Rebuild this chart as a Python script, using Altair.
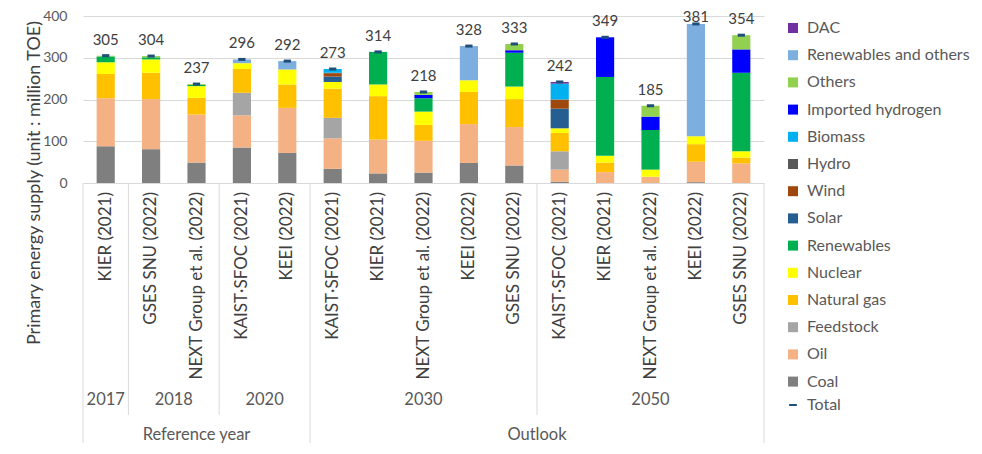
import altair as alt
import pandas as pd

# ---------------- data ----------------
studies = ["KIER (2021)", "GSES SNU (2022)", "NEXT Group et al. (2022)", "KAIST·SFOC (2021)", "KEEI (2022)",
           "KAIST·SFOC (2021)", "KIER (2021)", "NEXT Group et al. (2022)", "KEEI (2022)", "GSES SNU (2022)",
           "KAIST·SFOC (2021)", "KIER (2021)", "NEXT Group et al. (2022)", "KEEI (2022)", "GSES SNU (2022)"]
years = ["2017", "2018", "2018", "2020", "2020",
         "2030", "2030", "2030", "2030", "2030",
         "2050", "2050", "2050", "2050", "2050"]
groups = ["Reference year"] * 5 + ["Outlook"] * 10
totals = [305, 304, 237, 296, 292, 273, 314, 218, 328, 333, 242, 349, 185, 381, 354]

coal = [88, 81, 49, 85, 72, 34, 23, 25, 48, 42, 3, 0, 0, 2, 0]
oil = [115, 120, 115, 77, 108, 73, 81, 76, 93, 92, 29, 26, 15, 49, 47]
feedstock = [0, 0, 0, 54, 0, 49, 0, 0, 0, 0, 44, 0, 0, 0, 0]
natural_gas = [58, 63, 40, 57, 56, 70, 104, 38, 77, 67, 44, 23, 0, 42, 14]
nuclear = [28, 32, 28, 14, 36, 16, 28, 32, 28, 30, 11, 16, 17, 19, 15]
renewables = [14, 5, 3, 0, 0, 0, 78, 32, 0, 81, 0, 189, 95, 0, 188]
solar = [0, 0, 0, 0, 0, 13, 0, 0, 0, 0, 47, 0, 0, 0, 0]
wind = [0, 0, 0, 0, 0, 8, 0, 0, 0, 0, 22, 0, 0, 0, 0]
hydro = [0, 0, 0, 0, 0, 1, 0, 0, 0, 0, 0, 0, 0, 0, 0]
biomass = [0, 0, 0, 0, 0, 9, 0, 0, 0, 0, 38, 0, 0, 0, 0]
imported_hydrogen = [0, 0, 0, 0, 0, 0, 0, 8, 0, 6, 0, 95, 32, 0, 56]
others = [2, 3, 2, 0, 0, 0, 0, 7, 0, 15, 0, 0, 26, 0, 34]
renewables_and_others = [0, 0, 0, 9, 20, 0, 0, 0, 82, 0, 0, 0, 0, 269, 0]
dac = [0, 0, 0, 0, 0, 0, 0, 0, 0, 0, 4, 0, 0, 0, 0]

legend_names = ["DAC", "Renewables and others", "Others", "Imported hydrogen", "Biomass", "Hydro",
                "Wind", "Solar", "Renewables", "Nuclear", "Natural gas", "Feedstock", "Oil", "Coal"]
legend_colors = ["#7030A0", "#7DAEE0", "#92D050", "#0000FF", "#00B0F0", "#595959",
                 "#9E480E", "#255E91", "#00B050", "#FFFF00", "#FFC000", "#A5A5A5", "#F4B183", "#7F7F7F"]

series_values = {
    "Coal": coal, "Oil": oil, "Feedstock": feedstock, "Natural gas": natural_gas,
    "Nuclear": nuclear, "Renewables": renewables, "Solar": solar, "Wind": wind,
    "Hydro": hydro, "Biomass": biomass, "Imported hydrogen": imported_hydrogen,
    "Others": others, "Renewables and others": renewables_and_others, "DAC": dac,
}
stack_order = list(reversed(legend_names))

FONT = "Lato"
TXT = "#404040"
GRID = "#D9D9D9"

# ---------------- tables ----------------
rows = []
for i in range(len(studies)):
    cum = 0
    for name in stack_order:
        v = series_values[name][i]
        if v > 0:
            rows.append(dict(idx=i, x0=i + 0.3, x1=i + 0.7, series=name, y0=cum, y1=cum + v))
            cum += v
seg = pd.DataFrame(rows)

tot = pd.DataFrame({
    "xc": [i + 0.5 for i in range(len(studies))],
    "tx0": [i + 0.42 for i in range(len(studies))],
    "tx1": [i + 0.58 for i in range(len(studies))],
    "total": totals,
    "study": studies,
    "label": ["Total"] * len(studies),
})

# year / group labels centred on their spans
def spans(keys):
    out = []
    start = 0
    for i in range(1, len(keys) + 1):
        if i == len(keys) or keys[i] != keys[start]:
            out.append((keys[start], start, i))
            start = i
    return out

year_keys = [g + "|" + y for g, y in zip(groups, years)]
year_df = pd.DataFrame([{"text": k.split("|")[1], "xc": (a + b) / 2} for k, a, b in spans(year_keys)])
group_df = pd.DataFrame([{"text": k, "xc": (a + b) / 2} for k, a, b in spans(groups)])

full_b = sorted({a for _, a, _ in spans(groups)} | {len(groups)})
short_b = sorted({a for _, a, _ in spans(year_keys)} - set(full_b))
full_df = pd.DataFrame({"xb": full_b})
short_df = pd.DataFrame({"xb": short_b})

xscale = alt.Scale(domain=[0, len(studies)], nice=False, zero=False)
yscale = alt.Scale(domain=[0, 400], nice=False)

PH = 167  # plot height in px

bars = alt.Chart(seg).mark_rect().encode(
    x=alt.X("x0:Q", scale=xscale, axis=None),
    x2="x1:Q",
    y=alt.Y("y0:Q", scale=yscale,
            axis=alt.Axis(values=list(range(0, 401, 50)), title=None, domain=False, ticks=False,
                          grid=True, gridColor=GRID, labelFont=FONT, labelFontSize=14,
                          labelColor="#595959", labelPadding=16)),
    y2="y1:Q",
    fill=alt.Fill("series:N", scale=alt.Scale(domain=legend_names, range=legend_colors),
                  legend=alt.Legend(title=None, orient="none", legendX=702, legendY=4,
                                    symbolType="square", symbolSize=100, symbolStrokeWidth=0,
                                    labelFont=FONT, labelFontSize=16, labelColor="#595959",
                                    labelLimit=260, rowPadding=11.2, labelOffset=6, padding=0)),
)

total_marks = alt.Chart(tot).mark_rule(strokeWidth=3).encode(
    x=alt.X("tx0:Q", scale=xscale, axis=None),
    x2="tx1:Q",
    y=alt.Y("total:Q", scale=yscale),
    stroke=alt.Stroke("label:N", scale=alt.Scale(domain=["Total"], range=["#1F4E79"]),
                      legend=alt.Legend(title=None, orient="none", legendX=702, legendY=381,
                                        symbolType="stroke", symbolSize=60, symbolStrokeWidth=2,
                                        labelFont=FONT, labelFontSize=16, labelColor="#595959",
                                        labelOffset=6, padding=0)),
)

# labels sit above each bar; the tallest one is kept inside the chart area, as in the original
total_text = alt.Chart(tot).transform_calculate(
    ty="min(datum.total, 360)"
).mark_text(dy=-11, baseline="alphabetic", font=FONT, fontSize=15, color=TXT).encode(
    x=alt.X("xc:Q", scale=xscale, axis=None),
    y=alt.Y("ty:Q", scale=yscale),
    text="total:Q",
)

study_text = alt.Chart(tot).mark_text(angle=270, align="right", baseline="middle", font=FONT,
                                      fontSize=17, color=TXT).encode(
    x=alt.X("xc:Q", scale=xscale, axis=None),
    y=alt.value(PH + 9),
    text="study:N",
)

year_text = alt.Chart(year_df).mark_text(baseline="middle", font=FONT, fontSize=16.5,
                                         color="#595959").encode(
    x=alt.X("xc:Q", scale=xscale, axis=None),
    y=alt.value(384),
    text="text:N",
)

group_text = alt.Chart(group_df).mark_text(baseline="middle", font=FONT, fontSize=16.5,
                                           color="#595959").encode(
    x=alt.X("xc:Q", scale=xscale, axis=None),
    y=alt.value(419),
    text="text:N",
)

full_rules = alt.Chart(full_df).mark_rule(color=GRID, strokeWidth=1).encode(
    x=alt.X("xb:Q", scale=xscale, axis=None),
    y=alt.value(PH),
    y2=alt.value(429),
)
short_rules = alt.Chart(short_df).mark_rule(color=GRID, strokeWidth=1).encode(
    x=alt.X("xb:Q", scale=xscale, axis=None),
    y=alt.value(PH),
    y2=alt.value(399),
)

title_df = pd.DataFrame({"t": ["Primary energy supply (unit : million TOE)"]})
y_title = alt.Chart(title_df).mark_text(angle=270, align="center", baseline="middle", font=FONT,
                                        fontSize=18, color=TXT).encode(
    x=alt.value(-48),
    y=alt.value(167),
    text="t:N",
)

chart = alt.layer(
    bars, total_marks, total_text, study_text, year_text, group_text,
    full_rules, short_rules, y_title,
).properties(
    width=681, height=PH,
    autosize=alt.AutoSizeParams(type="none"),
    padding={"left": 75, "top": 8, "right": 210, "bottom": 260},
).configure_view(stroke=None).resolve_legend(fill="independent", stroke="independent")

chart.save("out.html", embed_options={"renderer": "svg", "actions": False})
